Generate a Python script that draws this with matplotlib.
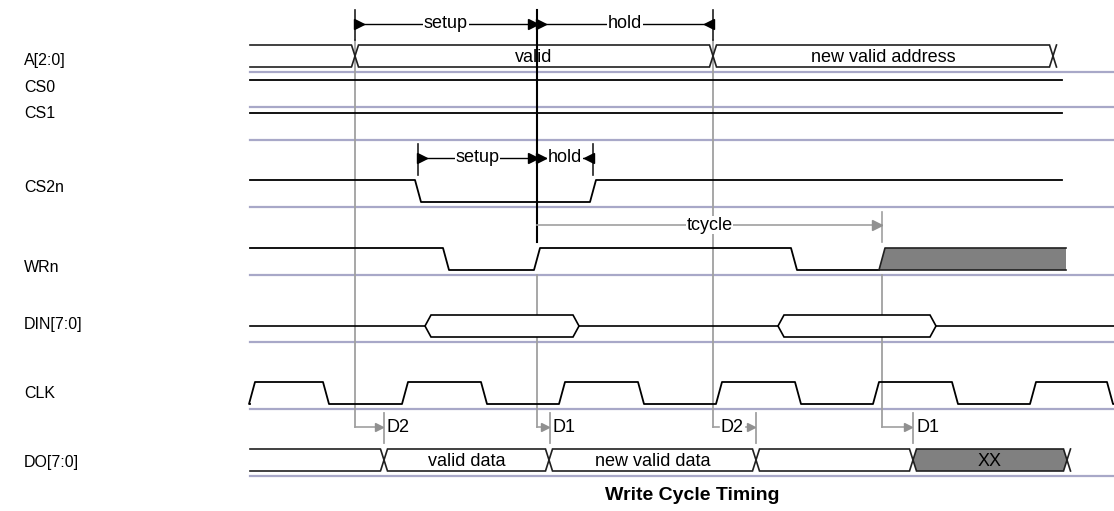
import matplotlib.pyplot as plt
from matplotlib.patches import Polygon

plt.rcParams['font.family'] = ['Liberation Sans', 'DejaVu Sans']
plt.rcParams['font.size'] = 13

# signal rows, grey base line of each row and label height
rows = ['A[2:0]', 'CS0', 'CS1', 'CS2n', 'WRn', 'DIN[7:0]', 'CLK', 'DO[7:0]']
row_base = [72, 107, 140, 207, 275, 342, 409, 476]
label_y = [61, 87, 114, 187, 268, 325, 393, 462]

# edge times (time axis runs along x)
t_start = 250
t_end = 1062
clk_edges = [249, 323, 402, 481, 559, 638, 716, 795, 873, 952, 1030, 1107]
cs2n_edges = [415, 590]
wrn_edges = [443, 534, 791]
wrn_unknown = [879, 1066]
din_valid = [(425, 579), (778, 936)]
a_cross = [355, 713, 1053]
a_text = ['', 'valid', 'new valid address']
do_cross = [384, 549, 756, 913, 1067]
do_text = ['', 'valid data', 'new valid data', '', 'XX']
do_fill = [False, False, False, False, True]

# timing marks
addr_marks = [355, 537, 713]
cs_marks = [418, 537, 593]
tcycle = [537, 882]
d_marks = [(355, 384, 'D2'), (537, 550, 'D1'), (713, 756, 'D2'), (882, 913, 'D1')]

slew = 6
xw = 7
black = '#000000'
grey = '#a0a0a0'
sep = '#a8a8c8'
fill = '#808080'

fig = plt.figure(figsize=(11.14, 5.11), dpi=100)
ax = fig.add_axes([0, 0, 1, 1])
ax.set_xlim(0, 1114)
ax.set_ylim(511, 0)
ax.axis('off')


def levels(base):
    return base - 27, base - 5


def wave(base, edges, t0, t1, start=1):
    hi, lo = levels(base)
    lv = start
    xs, ys = [t0], [hi if lv else lo]
    for e in edges:
        y0 = hi if lv else lo
        lv = 1 - lv
        y1 = hi if lv else lo
        xs += [e, e + slew]
        ys += [y0, y1]
    xs.append(t1)
    ys.append(hi if lv else lo)
    ax.plot(xs, ys, color=black, lw=1.3, zorder=3)
    return lv


def bus(base, crosses, texts, fills, t0):
    hi, lo = levels(base)
    mid = (hi + lo) / 2
    h = xw / 2
    c0 = crosses[0]
    ax.plot([t0, c0 - h, c0, c0 - h, t0], [hi, hi, mid, lo, lo], color='#202020', lw=1.2, zorder=3)
    for i in range(1, len(crosses)):
        a, b = crosses[i - 1], crosses[i]
        pts = [(a, mid), (a + h, hi), (b - h, hi), (b, mid), (b - h, lo), (a + h, lo)]
        ax.add_patch(Polygon(pts, closed=True, facecolor=fill if fills[i] else 'white',
                             edgecolor='#202020', lw=1.2, zorder=3))
        if texts[i]:
            ax.text((a + b) / 2, mid + 1, texts[i], ha='center', va='center', zorder=4)
    c = crosses[-1]
    ax.plot([c + h, c, c + h], [hi, mid, lo], color='#202020', lw=1.2, zorder=3)


# row labels and base lines
for name, b, ly in zip(rows, row_base, label_y):
    ax.text(24, ly, name, ha='left', va='center', fontsize=11.5)
    ax.plot([250, 1114], [b, b], color=sep, lw=1.6, zorder=1)

bus(row_base[0], a_cross, a_text, [False] * 3, t_start)
wave(row_base[1], [], t_start, t_end)
wave(row_base[2], [], t_start, t_end)
wave(row_base[3], cs2n_edges, t_start, t_end)
wave(row_base[4], wrn_edges, t_start, wrn_unknown[0])

hi, lo = levels(row_base[4])
u0, u1 = wrn_unknown
ax.add_patch(Polygon([(u0, lo), (u0 + slew, hi), (u1, hi), (u1, lo)], closed=True,
                     facecolor=fill, edgecolor='none', zorder=2))
ax.plot([u0, u0 + slew, u1], [lo, hi, hi], color='#202020', lw=1.2, zorder=3)
ax.plot([u0, u1], [lo, lo], color='#202020', lw=1.2, zorder=3)

# DIN: idle line with two valid windows
hi, lo = levels(row_base[5])
mid = (hi + lo) / 2
prev = t_start
for a, b in din_valid:
    ax.plot([prev, a], [mid, mid], color=black, lw=1.2, zorder=3)
    ax.add_patch(Polygon([(a, mid), (a + slew, hi), (b - slew, hi), (b, mid), (b - slew, lo), (a + slew, lo)],
                         closed=True, facecolor='white', edgecolor=black, lw=1.2, zorder=3))
    prev = b
ax.plot([prev, 1114], [mid, mid], color=black, lw=1.2, zorder=3)

wave(row_base[6], clk_edges, t_start, 1114, start=0)
bus(row_base[7], do_cross, do_text, do_fill, t_start)


def dimension(y, marks, names, y0, y1):
    a, m, b = marks
    for x in (a, b):
        ax.plot([x, x], [y0, y1], color='#202020', lw=1.2, zorder=4)
    ax.plot([a, b], [y, y], color=black, lw=1.0, zorder=4)
    ax.plot([a + 4, m - 4, m + 4], [y] * 3, ls='none', marker='>', ms=7, color=black, zorder=5)
    ax.plot([b - 4], [y], ls='none', marker='<', ms=7, color=black, zorder=5)
    for (p, q), s in zip([(a, m), (m, b)], names):
        ax.text((p + q) / 2, y, s, ha='center', va='center', zorder=6,
                bbox=dict(facecolor='white', edgecolor='none', pad=0.5))


# address setup / hold
dimension(24, addr_marks, ['setup', 'hold'], 10, 40)
ax.plot([addr_marks[1]] * 2, [10, 242], color=black, lw=1.5, zorder=4)
for x in (addr_marks[0], addr_marks[2]):
    ax.plot([x, x], [40, 427], color=grey, lw=1.3, zorder=2)

# chip select setup / hold
dimension(158, cs_marks, ['setup', 'hold'], 144, 175)

# write cycle
ty = 225
ax.plot(tcycle, [ty, ty], color=grey, lw=1.2, zorder=4)
ax.plot([tcycle[1] - 5], [ty], ls='none', marker='>', ms=7, color='#909090', zorder=5)
ax.plot([tcycle[1]] * 2, [212, 242], color=grey, lw=1.2, zorder=4)
ax.text(sum(tcycle) / 2, ty, 'tcycle', ha='center', va='center', zorder=6,
        bbox=dict(facecolor='white', edgecolor='none', pad=0.5))
for x in tcycle:
    ax.plot([x, x], [275, 427], color=grey, lw=1.3, zorder=2)

# output delays
dy = 427
for src, dst, name in d_marks:
    ax.plot([dst, dst], [413, 443], color=grey, lw=1.3, zorder=4)
    if src == addr_marks[2]:
        ax.plot([src, src + 6], [dy, dy], color=grey, lw=1.2, zorder=4)
        ax.text(src + 7, dy, name, ha='left', va='center', zorder=6)
        ax.plot([dst - 10, dst - 4], [dy, dy], color=grey, lw=1.2, zorder=4)
        ax.plot([dst - 5], [dy], ls='none', marker='>', ms=6, color='#909090', zorder=5)
    else:
        ax.plot([src, dst - 4], [dy, dy], color=grey, lw=1.2, zorder=4)
        ax.plot([dst - 5], [dy], ls='none', marker='>', ms=6, color='#909090', zorder=5)
        ax.text(dst + 3, dy, name, ha='left', va='center', zorder=6)

ax.text(692, 495, 'Write Cycle Timing', ha='center', va='center', fontweight='bold', fontsize=14)

fig.savefig('out.png', dpi=100)
